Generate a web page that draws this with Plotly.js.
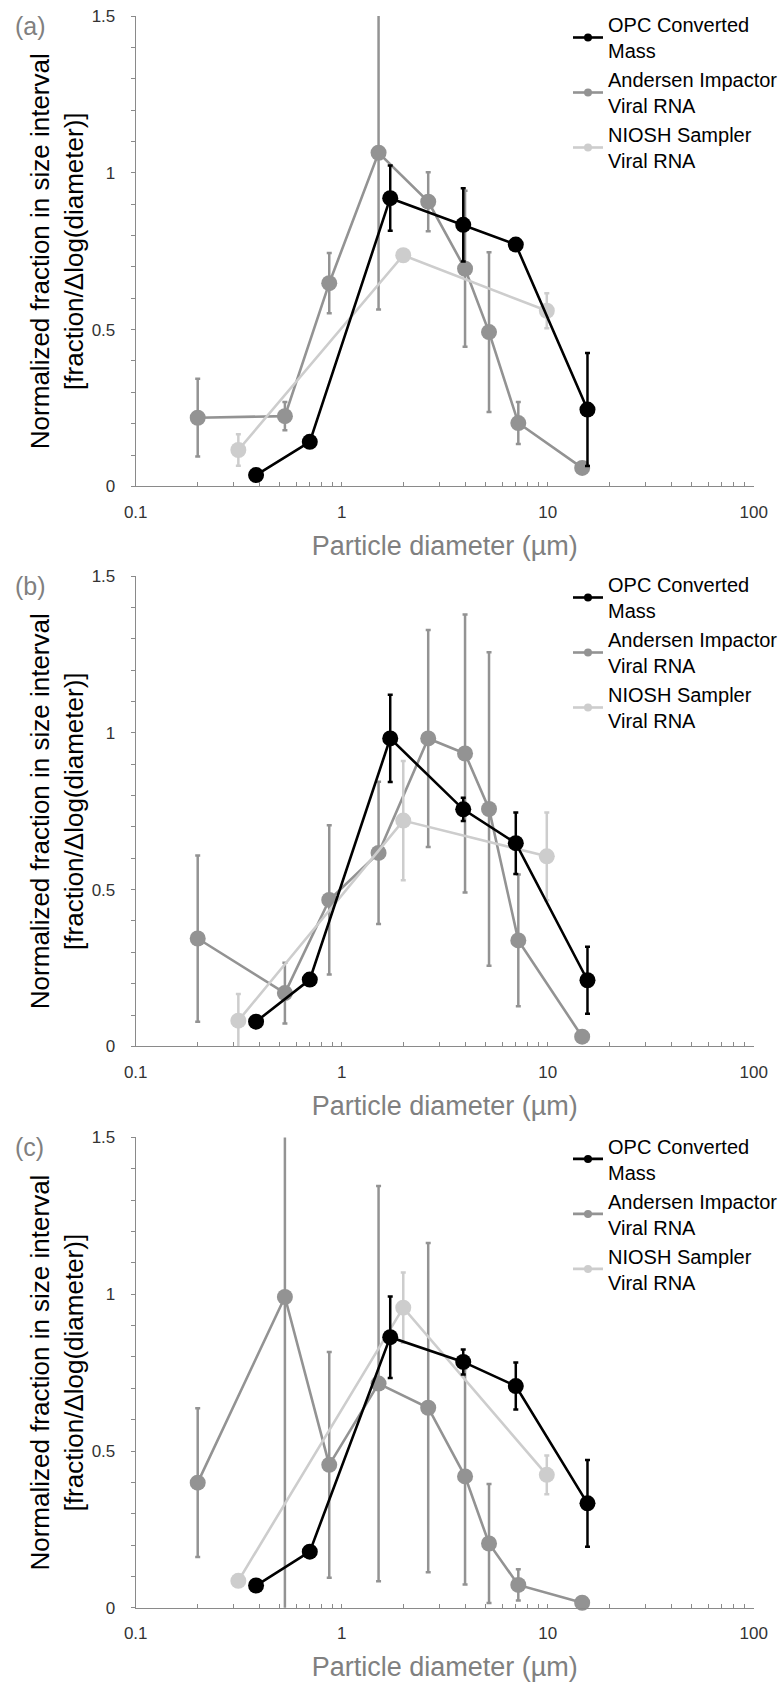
<!DOCTYPE html>
<html>
<head>
<meta charset="utf-8">
<script src="https://cdn.plot.ly/plotly-3.0.1.min.js"></script>
<style>html,body{margin:0;padding:0;background:#fff;}#chart{width:783px;height:1682px;}</style>
</head>
<body>
<div id="chart"></div>
<script>
// ---- Data ----
const seriesNames = ["OPC Converted<br>Mass", "Andersen Impactor<br>Viral RNA", "NIOSH Sampler<br>Viral RNA"];
const panelLabels = ["(a)", "(b)", "(c)"];

const opcX = [0.384, 0.70, 1.72, 3.89, 7.0, 15.6];
const andersenX = [0.2, 0.53, 0.87, 1.51, 2.63, 3.97, 5.19, 7.2, 14.7];
const nioshX = [0.315, 1.99, 9.9];

// Panel (a)
const opcA = [0.036, 0.142, 0.919, 0.834, 0.771, 0.245];
const opcErrA = [0, 0, 0.104, 0.117, 0, 0.18];
const andA = [0.219, 0.224, 0.648, 1.064, 0.908, 0.694, 0.492, 0.202, 0.059];
const andErrA = [0.124, 0.045, 0.096, 0.5, 0.094, 0.249, 0.255, 0.067, 0];
const nioA = [0.116, 0.737, 0.56];
const nioErrA = [0.05, 0, 0.056];

// Panel (b)
const opcB = [0.079, 0.213, 0.982, 0.756, 0.648, 0.211];
const opcErrB = [0, 0, 0.139, 0.037, 0.098, 0.107];
const andB = [0.344, 0.170, 0.467, 0.617, 0.982, 0.934, 0.757, 0.338, 0.031];
const andErrB = [0.265, 0.097, 0.238, 0.227, 0.346, 0.443, 0.5, 0.21, 0];
const nioB = [0.082, 0.72, 0.606];
const nioErrB = [0.085, 0.19, 0.14];

// Panel (c)
const opcC = [0.071, 0.179, 0.863, 0.784, 0.707, 0.333];
const opcErrC = [0, 0, 0.13, 0.04, 0.075, 0.138];
const andC = [0.399, 0.991, 0.456, 0.715, 0.638, 0.419, 0.205, 0.073, 0.016];
const andErrC = [0.237, 1.0, 0.36, 0.63, 0.525, 0.345, 0.19, 0.05, 0];
const nioC = [0.086, 0.957, 0.424];
const nioErrC = [0, 0.112, 0.062];

// Axis ticks
const xTickVals = [0.1,0.2,0.3,0.4,0.5,0.6,0.7,0.8,0.9,1,2,3,4,5,6,7,8,9,10,20,30,40,50,60,70,80,90,100];
const xTickText = ["0.1","","","","","","","","","1","","","","","","","","","10","","","","","","","","","100"];
const yTickVals = [0,0.1,0.2,0.3,0.4,0.5,0.6,0.7,0.8,0.9,1,1.1,1.2,1.3,1.4,1.5];
const yTickText = ["0","","","","","0.5","","","","","1","","","","","1.5"];

// ---- Styling ----
const FONT = "Liberation Sans, Arial, Helvetica, sans-serif";
const colOPC = "#000000", colAnd = "#939393", colNio = "#cdcdcd";
const W = 783, H = 1682;
const xDom = [135.7 / W, 753.7 / W];
const panelsPx = [[16, 486.4], [576, 1046.4], [1137.4, 1607.8]];

const panels = [
  {opc: opcA, opcE: opcErrA, and: andA, andE: andErrA, nio: nioA, nioE: nioErrA},
  {opc: opcB, opcE: opcErrB, and: andB, andE: andErrB, nio: nioB, nioE: nioErrB},
  {opc: opcC, opcE: opcErrC, and: andC, andE: andErrC, nio: nioC, nioE: nioErrC}
];

const traces = [];
const layout = {
  width: W, height: H,
  margin: {l: 0, r: 0, t: 0, b: 0, autoexpand: false},
  paper_bgcolor: "#ffffff", plot_bgcolor: "#ffffff",
  font: {family: FONT, color: "#000"},
  showlegend: true,
  annotations: []
};

function errTrace(x, y, e, col, ax) {
  return {
    x: x, y: y, type: "scatter", mode: "none", showlegend: false, hoverinfo: "skip",
    xaxis: "x" + ax, yaxis: "y" + ax, cliponaxis: true,
    error_y: {type: "data", array: e, visible: true, color: col, thickness: 2.5, width: 2.5}
  };
}
function lineTrace(x, y, col, name, ax) {
  return {
    x: x, y: y, type: "scatter", mode: "lines+markers", name: name, showlegend: false,
    xaxis: "x" + ax, yaxis: "y" + ax, cliponaxis: false,
    line: {color: col, width: 2.6},
    marker: {color: col, size: 16, symbol: "circle"}
  };
}
function legendTrace(col, name, ax, leg, rank) {
  return {
    x: [null], y: [null], type: "scatter", mode: "lines+markers", name: name,
    xaxis: "x" + ax, yaxis: "y" + ax, legend: leg, legendrank: rank, hoverinfo: "skip",
    line: {color: col, width: 2.6},
    marker: {color: col, size: 8, symbol: "circle"}
  };
}

panels.forEach((p, i) => {
  const ax = i === 0 ? "" : String(i + 1);
  const leg = i === 0 ? "legend" : "legend" + (i + 1);
  traces.push(errTrace(andersenX, p.and, p.andE, colAnd, ax));
  traces.push(lineTrace(andersenX, p.and, colAnd, seriesNames[1], ax));
  traces.push(errTrace(nioshX, p.nio, p.nioE, colNio, ax));
  traces.push(lineTrace(nioshX, p.nio, colNio, seriesNames[2], ax));
  traces.push(errTrace(opcX, p.opc, p.opcE, colOPC, ax));
  traces.push(lineTrace(opcX, p.opc, colOPC, seriesNames[0], ax));
  traces.push(legendTrace(colOPC, seriesNames[0], ax, leg, 1));
  traces.push(legendTrace(colAnd, seriesNames[1], ax, leg, 2));
  traces.push(legendTrace(colNio, seriesNames[2], ax, leg, 3));

  const top = panelsPx[i][0], bot = panelsPx[i][1];
  const yDom = [(H - bot) / H, (H - top) / H];

  layout["xaxis" + ax] = {
    type: "log", range: [-1, 2], domain: xDom, anchor: "y" + ax,
    showline: true, linecolor: "#8a8a8a", linewidth: 1,
    showgrid: false, zeroline: false,
    ticks: "inside", ticklen: 4, tickcolor: "#8a8a8a", tickwidth: 1,
    tickmode: "array", tickvals: xTickVals, ticktext: xTickText,
    tickfont: {family: FONT, size: 17, color: "#333"},
    ticklabelstandoff: 10,
    title: {text: "Particle diameter (µm)", font: {family: FONT, size: 27, color: "#808080"}, standoff: 15}
  };
  layout["yaxis" + ax] = {
    range: [0, 1.5], domain: yDom, anchor: "x" + ax,
    showline: true, linecolor: "#8a8a8a", linewidth: 1,
    showgrid: false, zeroline: false,
    ticks: "outside", ticklen: 4, tickcolor: "#8a8a8a", tickwidth: 1,
    tickmode: "array", tickvals: yTickVals, ticktext: yTickText,
    tickfont: {family: FONT, size: 17, color: "#333"},
    ticklabelstandoff: 12,
    title: {text: "Normalized fraction in size interval<br>[fraction/Δlog(diameter)]",
            font: {family: FONT, size: 26, color: "#000"}, standoff: 0}
  };
  layout[leg] = {
    x: 568 / W, xanchor: "left", y: (H - (top - 11)) / H, yanchor: "top",
    font: {family: FONT, size: 20, color: "#000"},
    bgcolor: "rgba(0,0,0,0)", borderwidth: 0, itemwidth: 30,
    traceorder: "normal", tracegroupgap: 0
  };
  layout.annotations.push({
    text: panelLabels[i], xref: "paper", yref: "paper",
    x: 13 / W, xanchor: "left", y: (H - (top + 10)) / H, yanchor: "middle",
    showarrow: false, font: {family: FONT, size: 25, color: "#808080"}
  });
});

Plotly.newPlot("chart", traces, layout, {displayModeBar: false, staticPlot: true});
</script>
</body>
</html>
